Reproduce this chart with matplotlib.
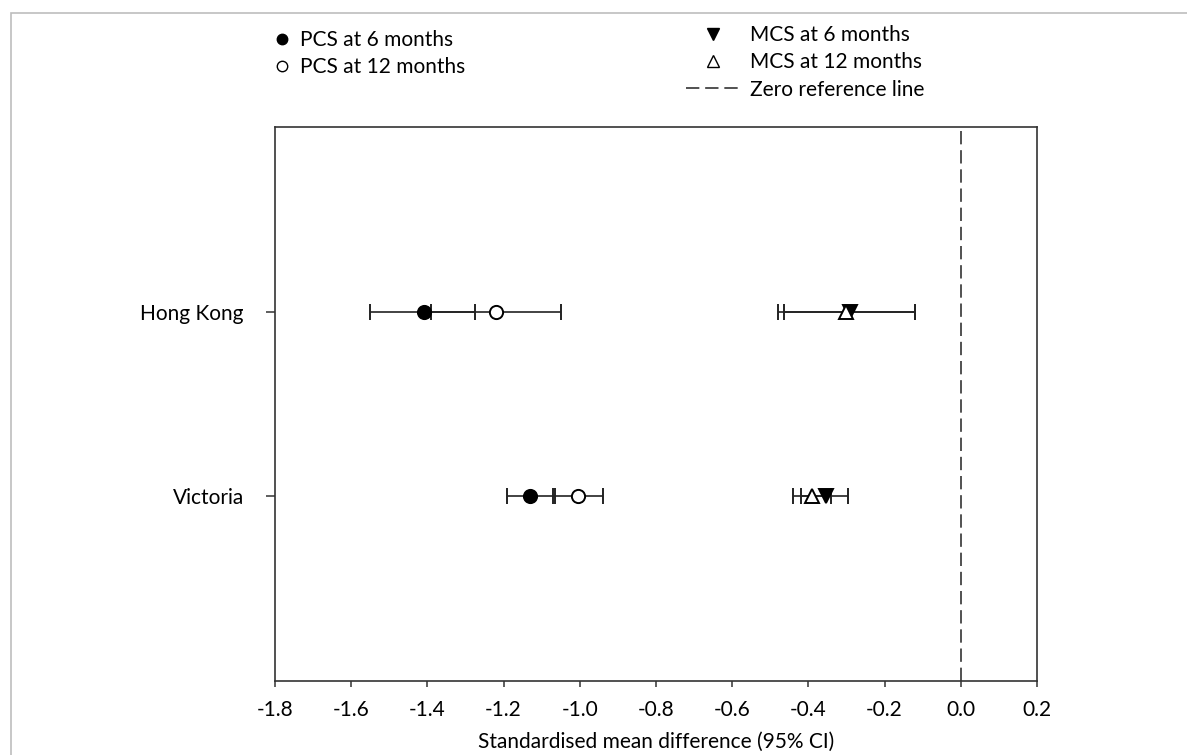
import numpy as np
import matplotlib
matplotlib.use("Agg")
import matplotlib.pyplot as plt
from matplotlib.lines import Line2D
from matplotlib.patches import Rectangle

plt.rcParams["font.family"] = ["Lato", "DejaVu Sans"]

# sites on the y axis (bottom to top)
sites = ["Victoria", "Hong Kong"]

# standardised mean difference with 95% CI, same order as sites
pcs6 = [-1.13, -1.41]
pcs6_lo = [-1.19, -1.55]
pcs6_hi = [-1.065, -1.275]

pcs12 = [-1.005, -1.22]
pcs12_lo = [-1.07, -1.39]
pcs12_hi = [-0.94, -1.05]

mcs6 = [-0.355, -0.29]
mcs6_lo = [-0.42, -0.465]
mcs6_hi = [-0.295, -0.12]

mcs12 = [-0.39, -0.30]
mcs12_lo = [-0.44, -0.48]
mcs12_hi = [-0.34, -0.12]

xticks = [-1.8, -1.6, -1.4, -1.2, -1.0, -0.8, -0.6, -0.4, -0.2, 0.0, 0.2]

fs = 15
fig = plt.figure(figsize=(11.87, 7.55), dpi=100)
ax = fig.add_axes([0.2317, 0.098, 0.6419, 0.7338])

ypos = np.arange(1, len(sites) + 1)
fc = "#333333"
dash = (0, (8, 3.5))


def draw(vals, lo, hi, marker, face, ms):
    vals = np.array(vals)
    err = [vals - np.array(lo), np.array(hi) - vals]
    ax.errorbar(vals, ypos, xerr=err, fmt=marker, color="black", ecolor="#222222",
                mfc=face, mec="black", ms=ms, mew=1.4, elinewidth=1.2,
                capsize=6, capthick=1.2)


draw(pcs6, pcs6_lo, pcs6_hi, "o", "black", 9.5)
draw(pcs12, pcs12_lo, pcs12_hi, "o", "white", 9.5)
draw(mcs6, mcs6_lo, mcs6_hi, "v", "black", 10)
draw(mcs12, mcs12_lo, mcs12_hi, "^", "white", 10)

ax.axvline(0, color=fc, lw=1.2, ls=dash, zorder=0)

ax.set_xlim(-1.8, 0.2)
ax.set_ylim(0, 3)
ax.set_xticks(xticks)
ax.set_xticklabels([f"{t:.1f}" for t in xticks])
ax.set_yticks(ypos)
ax.set_yticklabels(sites)
ax.tick_params(axis="x", length=4.5, width=1.1, color=fc, labelsize=fs, pad=9)
ax.tick_params(axis="y", length=6.5, width=1.1, color=fc, labelsize=fs, pad=16)
for s in ax.spines.values():
    s.set_color(fc)
    s.set_linewidth(1.2)
ax.set_xlabel("Standardised mean difference (95% CI)", fontsize=fs, labelpad=9)

# legends
h_pcs = [
    Line2D([], [], ls="none", marker="o", mfc="black", mec="black", ms=7.5),
    Line2D([], [], ls="none", marker="o", mfc="white", mec="black", ms=7.5),
]
fig.legend(h_pcs, ["PCS at 6 months", "PCS at 12 months"], frameon=False,
           loc="upper left", bbox_to_anchor=(272 / 1187, 1 - 30 / 755),
           fontsize=fs, handlelength=1.0, handletextpad=0.35, labelspacing=0.35,
           borderpad=0, borderaxespad=0)

h_mcs = [
    Line2D([], [], ls="none", marker="v", mfc="black", mec="black", ms=8.5),
    Line2D([], [], ls="none", marker="^", mfc="white", mec="black", ms=8.5),
    Line2D([], [], color=fc, lw=1.2, ls=dash),
]
fig.legend(h_mcs, ["MCS at 6 months", "MCS at 12 months", "Zero reference line"],
           frameon=False, loc="upper left", bbox_to_anchor=(686 / 1187, 1 - 25 / 755),
           fontsize=fs, handlelength=2.6, handletextpad=0.45, labelspacing=0.35,
           borderpad=0, borderaxespad=0)

# light frame round the figure
fig.add_artist(Rectangle((11 / 1187, -0.1), 1.2, 1.1 - 13 / 755, transform=fig.transFigure,
                         fill=False, edgecolor="#bdbdbd", lw=1.2, clip_on=False))

fig.savefig("out.png", dpi=100)
